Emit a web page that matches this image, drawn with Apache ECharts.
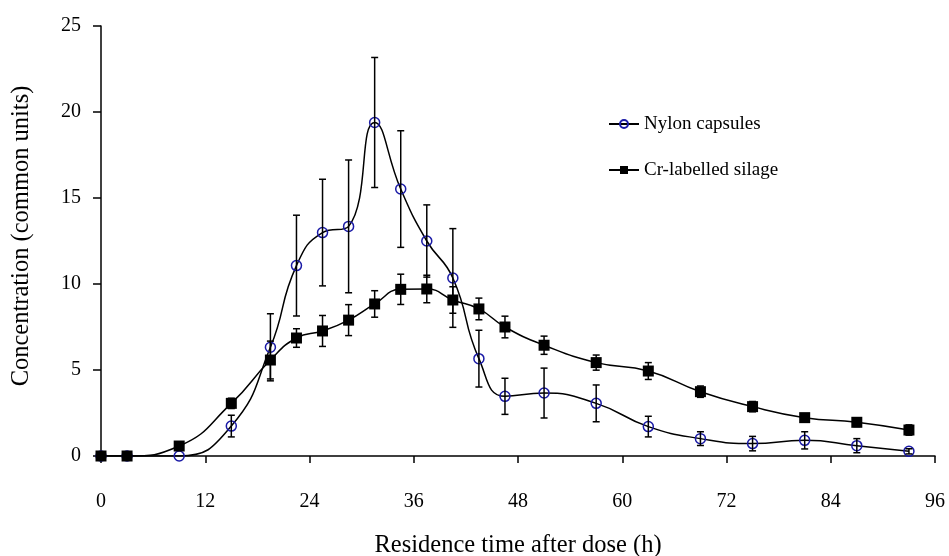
<!DOCTYPE html>
<html><head><meta charset="utf-8">
<script src="https://cdn.jsdelivr.net/npm/echarts@6/dist/echarts.min.js"></script>
<style>html,body{margin:0;padding:0;background:#fff}#c{width:949px;height:556px}</style>
</head><body><div id="c"></div>
<script>
var times = [0,3,9,15,19.5,22.5,25.5,28.5,31.5,34.5,37.5,40.5,43.5,46.5,51,57,63,69,75,81,87,93];
var nylon = [0,0,0,1.74,6.32,11.07,12.99,13.35,19.39,15.52,12.5,10.35,5.66,3.47,3.66,3.06,1.71,1.01,0.72,0.91,0.6,0.27];
var nylonErr = [0,0,0,0.63,1.95,2.93,3.1,3.86,3.78,3.39,2.1,2.87,1.65,1.05,1.45,1.07,0.6,0.4,0.42,0.5,0.41,0.15];
var cr = [0,0,0.58,3.06,5.58,6.86,7.27,7.9,8.84,9.69,9.71,9.07,8.55,7.5,6.44,5.43,4.94,3.74,2.87,2.23,1.96,1.51];
var crErr = [0,0,0,0.3,1.1,0.54,0.9,0.9,0.77,0.88,0.8,0.77,0.63,0.63,0.53,0.44,0.49,0.33,0.3,0.2,0.25,0.3];
var seriesNames = ['Nylon capsules','Cr-labelled silage'];
var xTicks = [0,12,24,36,48,60,72,84,96];
var yTicks = [0,5,10,15,20,25];

var FONT = 'Liberation Serif';
function pairs(v){ return times.map(function(t,i){ return [t, v[i]]; }); }
function errData(v,e){
  var out=[];
  times.forEach(function(t,i){ if(e[i]>0) out.push([t, v[i]-e[i], v[i]+e[i]]); });
  return out;
}
function renderErr(params, api){
  var x = api.value(0);
  var lo = api.coord([x, api.value(1)]);
  var hi = api.coord([x, api.value(2)]);
  var cap = 3.5;
  var st = {stroke:'#000', lineWidth:1.5};
  return {type:'group', children:[
    {type:'line', shape:{x1:lo[0],y1:lo[1],x2:hi[0],y2:hi[1]}, style:st},
    {type:'line', shape:{x1:lo[0]-cap,y1:lo[1],x2:lo[0]+cap,y2:lo[1]}, style:st},
    {type:'line', shape:{x1:hi[0]-cap,y1:hi[1],x2:hi[0]+cap,y2:hi[1]}, style:st}
  ]};
}
var chart = echarts.init(document.getElementById('c'), null, {renderer:'canvas'});
chart.setOption({
  animation:false,
  textStyle:{fontFamily:FONT},
  grid:{left:101, right:14, top:26, bottom:100, containLabel:false, outerBoundsMode:'none'},
  legend:{
    orient:'vertical', left:608, top:114.5, itemGap:27, itemWidth:30, itemHeight:10, padding:0,
    data:seriesNames,
    textStyle:{fontFamily:FONT, fontSize:19, color:'#000'}
  },
  xAxis:{
    type:'value', min:xTicks[0], max:xTicks[xTicks.length-1], interval:12,
    name:'Residence time after dose (h)', nameLocation:'middle', nameGap:77,
    nameTextStyle:{fontFamily:FONT, fontSize:24.5, color:'#000'},
    axisLine:{lineStyle:{color:'#000', width:1.5}},
    axisTick:{show:true, length:7, lineStyle:{color:'#000', width:1.5}},
    axisLabel:{fontFamily:FONT, fontSize:20, color:'#000', margin:36},
    splitLine:{show:false}
  },
  yAxis:{
    type:'value', min:yTicks[0], max:yTicks[yTicks.length-1], interval:5,
    name:'Concentration (common units)', nameLocation:'middle', nameGap:67, nameRotate:90,
    nameTextStyle:{fontFamily:FONT, fontSize:24.5, color:'#000', padding:[0,0,0,10]},
    axisLine:{show:true, lineStyle:{color:'#000', width:1.5}},
    axisTick:{show:true, length:8, lineStyle:{color:'#000', width:1.5}},
    axisLabel:{fontFamily:FONT, fontSize:20, color:'#000', margin:20},
    splitLine:{show:false}
  },
  series:[
    {name:seriesNames[0], type:'line', data:pairs(nylon), smooth:0.5, z:3,
     symbol:'circle', symbolSize:10,
     itemStyle:{color:'rgba(255,255,255,0)', borderColor:'#1a1aa6', borderWidth:1.5},
     lineStyle:{color:'#000', width:1.5}},
    {name:'nylonErr', type:'custom', data:errData(nylon,nylonErr), renderItem:renderErr, z:4},
    {name:'crErr', type:'custom', data:errData(cr,crErr), renderItem:renderErr, z:4},
    {name:seriesNames[1], type:'line', data:pairs(cr), smooth:0.5, z:5,
     symbol:'rect', symbolSize:11,
     itemStyle:{color:'#000'},
     lineStyle:{color:'#000', width:1.5}}
  ]
});
</script></body></html>
